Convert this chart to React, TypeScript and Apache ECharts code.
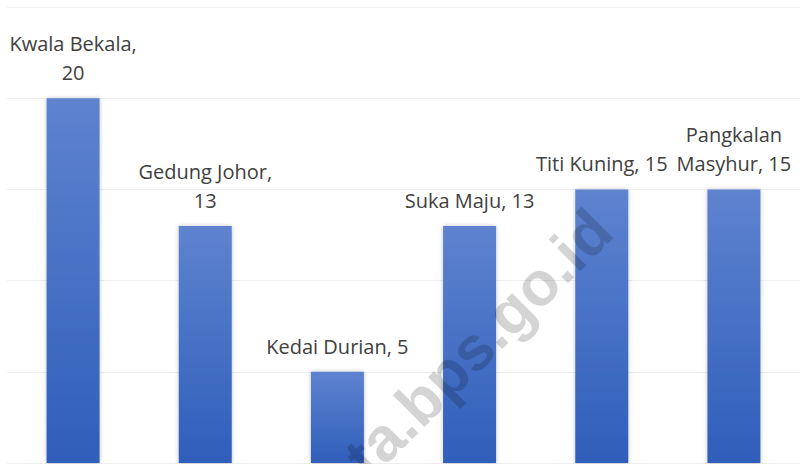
import React, { useEffect, useRef } from "react";
import * as echarts from "echarts";

const categories = ["Kwala Bekala", "Gedung Johor", "Kedai Durian", "Suka Maju", "Titi Kuning", "Pangkalan Masyhur"];
const values = [20, 13, 5, 13, 15, 15];
const labelTexts = ["Kwala Bekala,\n20", "Gedung Johor,\n13", "Kedai Durian, 5", "Suka Maju, 13", "Titi Kuning, 15", "Pangkalan\nMasyhur, 15"];
const yTicks = [0, 5, 10, 15, 20, 25];
const watermark = "ta.bps.go.id";

export default function App() {
  const ref = useRef<HTMLDivElement>(null);
  useEffect(() => {
    if (!ref.current) return;
    const chart = echarts.init(ref.current, null, { renderer: "svg" });
    chart.setOption({
      animation: false,
      backgroundColor: "#ffffff",
      grid: { left: 7, top: 7, bottom: 1, width: 797 },
      xAxis: {
        type: "category",
        data: categories,
        axisLine: { show: false },
        axisTick: { show: false },
        axisLabel: { show: false },
      },
      yAxis: {
        type: "value",
        min: yTicks[0],
        max: yTicks[yTicks.length - 1],
        interval: 5,
        axisLabel: { show: false },
        axisLine: { show: false },
        axisTick: { show: false },
        splitLine: { lineStyle: { color: "#eeeeee", width: 1 } },
      },
      graphic: [
        {
          type: "text",
          z: 100,
          x: 478,
          y: 343,
          rotation: (45 * Math.PI) / 180,
          silent: true,
          style: {
            text: watermark,
            fill: "rgba(0,0,0,0.17)",
            font: "bold 62px 'Liberation Sans', Arial, sans-serif",
            textAlign: "center",
            textVerticalAlign: "middle",
          },
        },
      ],
      series: [
        {
          type: "bar",
          data: values,
          barWidth: 53,
          z: 5,
          itemStyle: {
            color: new echarts.graphic.LinearGradient(0, 0, 0, 1, [
              { offset: 0, color: "#5e83cf" },
              { offset: 1, color: "#2f5eba" },
            ]),
            shadowColor: "rgba(0,0,0,0.25)",
            shadowBlur: 4,
          },
          label: {
            show: true,
            position: "top",
            distance: 11,
            formatter: (p: any) => labelTexts[p.dataIndex],
            color: "#404040",
            fontSize: 20,
            lineHeight: 29,
            fontFamily: "'Open Sans', sans-serif",
            align: "center",
          },
        },
      ],
    });
    return () => chart.dispose();
  }, []);
  return <div ref={ref} style={{ width: 800, height: 464, position: "fixed", left: 0, top: 0 }} />;
}
